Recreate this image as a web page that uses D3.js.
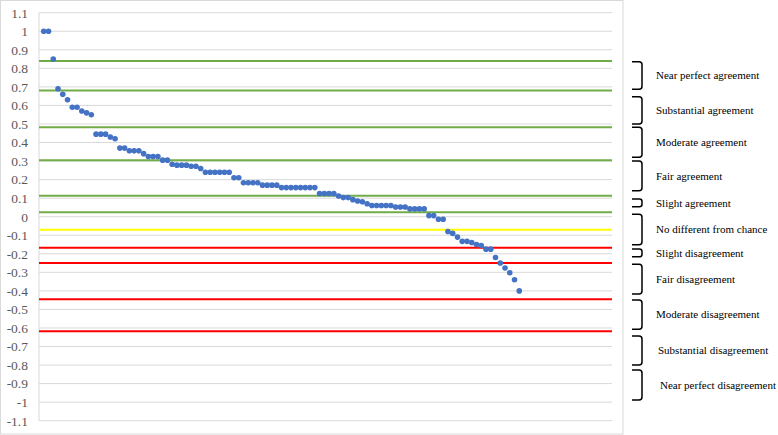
<!DOCTYPE html>
<html lang="en">
<head>
    <meta charset="UTF-8">
    <title>Agreement chart</title>
    <script src="https://d3js.org/d3.v7.min.js"></script>
    <style>
        body { margin: 0; background: #fff; }
        svg { display: block; }
        .tick-label { font-family: "Liberation Serif", "Times New Roman", serif; font-size: 13.5px; fill: #595959; }
        .band-label { font-family: "Liberation Serif", "Times New Roman", serif; font-size: 11px; fill: #000; }
    </style>
</head>
<body>
    <svg id="chart"></svg>
    <script>
        // values, sorted high to low
        const scores = [
          1.00, 1.00, 0.85, 0.69, 0.66, 0.63, 0.59, 0.59, 0.57, 0.56, 0.55,
          0.445, 0.445, 0.445, 0.43, 0.42, 0.37, 0.37, 0.355, 0.355, 0.355, 0.34,
          0.325, 0.325, 0.325, 0.305, 0.305, 0.283, 0.278, 0.278, 0.278, 0.272, 0.272, 0.26,
          0.24, 0.24, 0.24, 0.24, 0.24, 0.24, 0.21, 0.21,
          0.183, 0.183, 0.183, 0.183, 0.17, 0.17, 0.17, 0.17,
          0.157, 0.157, 0.157, 0.157, 0.157, 0.157, 0.157, 0.157,
          0.125, 0.125, 0.125, 0.125, 0.112, 0.103, 0.103, 0.092, 0.085, 0.081, 0.07,
          0.06, 0.06, 0.06, 0.06, 0.06, 0.052, 0.052, 0.052, 0.042, 0.042, 0.042, 0.042,
          0.006, 0.006, -0.014, -0.014,
          -0.08, -0.09, -0.11, -0.133, -0.133, -0.139, -0.15, -0.155, -0.175, -0.175,
          -0.22, -0.25, -0.277, -0.302, -0.34, -0.40
        ];

        const yTicks = [1.1, 1, 0.9, 0.8, 0.7, 0.6, 0.5, 0.4, 0.3, 0.2, 0.1, 0,
          -0.1, -0.2, -0.3, -0.4, -0.5, -0.6, -0.7, -0.8, -0.9, -1, -1.1];

        // horizontal cut-off lines
        const thresholdValues = [0.84, 0.68, 0.482, 0.304, 0.113, 0.024, -0.07, -0.167, -0.25, -0.445, -0.618];
        const thresholdKinds = ["agree", "agree", "agree", "agree", "agree", "agree", "chance",
          "disagree", "disagree", "disagree", "disagree"];

        // bracket annotations on the right (top value, bottom value)
        const bandLabels = ["Near perfect agreement", "Substantial agreement", "Moderate agreement",
          "Fair agreement", "Slight agreement", "No different from chance", "Slight disagreement",
          "Fair disagreement", "Moderate disagreement", "Substantial disagreement", "Near perfect disagreement"];
        const bandTops = [0.835, 0.647, 0.482, 0.30, 0.095, 0.013, -0.174, -0.257, -0.449, -0.643, -0.827];
        const bandBottoms = [0.687, 0.50, 0.32, 0.14, 0.054, -0.151, -0.216, -0.417, -0.607, -0.80, -0.988];

        const width = 778, height = 435;
        const plot = { left: 39, right: 612, top: 12.7, bottom: 420.7 };
        const kindColor = { agree: "#70AD47", chance: "#FFFF00", disagree: "#FF0000" };

        const svg = d3.select("#chart").attr("width", width).attr("height", height);

        const x = d3.scaleLinear().domain([0, 120.5]).range([plot.left, plot.right]);
        const y = d3.scaleLinear().domain([-1.1, 1.1]).range([plot.bottom, plot.top]);

        // chart frame
        svg.append("rect")
          .attr("x", 0.5).attr("y", 0.5)
          .attr("width", 622.5).attr("height", 433.5)
          .attr("fill", "#fff").attr("stroke", "#d9d9d9");

        // gridlines
        svg.selectAll(".grid")
          .data(yTicks)
          .enter().append("line")
          .attr("x1", plot.left).attr("x2", plot.right)
          .attr("y1", d => y(d)).attr("y2", d => y(d))
          .attr("stroke", "#d9d9d9").attr("stroke-width", 1);

        // left axis with labels only
        const yAxis = d3.axisLeft(y)
          .tickValues(yTicks)
          .tickSize(0)
          .tickPadding(11)
          .tickFormat(d => String(+d.toFixed(1)));
        const gy = svg.append("g").attr("transform", `translate(${plot.left},0)`).call(yAxis);
        gy.select(".domain").remove();
        gy.attr("font-size", null).attr("font-family", null);
        gy.selectAll("text").attr("class", "tick-label").attr("fill", null);

        svg.append("line")
          .attr("x1", plot.left).attr("x2", plot.left)
          .attr("y1", plot.top).attr("y2", plot.bottom)
          .attr("stroke", "#d9d9d9");

        // threshold lines
        svg.selectAll(".threshold")
          .data(thresholdValues)
          .enter().append("line")
          .attr("x1", plot.left).attr("x2", plot.right)
          .attr("y1", d => y(d)).attr("y2", d => y(d))
          .attr("stroke", (d, i) => kindColor[thresholdKinds[i]])
          .attr("stroke-width", 2);

        // points
        svg.selectAll(".dot")
          .data(scores)
          .enter().append("circle")
          .attr("cx", (d, i) => x(i + 1))
          .attr("cy", d => y(d))
          .attr("r", 2.8)
          .attr("fill", "#4472C4");

        // brackets and labels
        const bx0 = 632, bx1 = 642;
        const bands = bandLabels.map((label, i) => ({ label, top: bandTops[i], bottom: bandBottoms[i] }));

        svg.selectAll(".bracket")
          .data(bands)
          .enter().append("path")
          .attr("d", d => {
            const t = y(d.top), b = y(d.bottom), r = Math.min(3, (b - t) / 3);
            return `M${bx0},${t} L${bx1 - r},${t} Q${bx1},${t} ${bx1},${t + r} L${bx1},${b - r} Q${bx1},${b} ${bx1 - r},${b} L${bx0},${b}`;
          })
          .attr("fill", "none")
          .attr("stroke", "#000")
          .attr("stroke-width", 1.5);

        svg.selectAll(".band-label")
          .data(bands)
          .enter().append("text")
          .attr("class", "band-label")
          .attr("x", (d, i) => i >= 9 ? 658 + (i - 9) * 2 : 656)
          .attr("y", d => (y(d.top) + y(d.bottom)) / 2)
          .attr("dy", "0.35em")
          .text(d => d.label);
    </script>
</body>
</html>
